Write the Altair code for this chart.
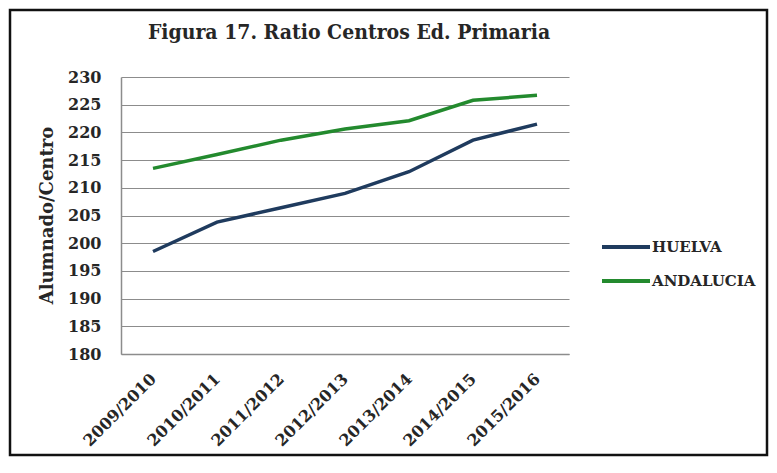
import altair as alt
import pandas as pd

categories = ["2009/2010", "2010/2011", "2011/2012", "2012/2013", "2013/2014", "2014/2015", "2015/2016"]
huelva = [198.5, 203.8, 206.4, 209.0, 212.9, 218.6, 221.5]
andalucia = [213.5, 216.0, 218.6, 220.6, 222.1, 225.8, 226.7]
series_names = ["HUELVA", "ANDALUCIA"]
series_colors = ["#1f3b5e", "#238a2e"]
y_ticks = [180, 185, 190, 195, 200, 205, 210, 215, 220, 225, 230]
title_text = "Figura 17. Ratio Centros Ed. Primaria"

rows = []
for name, vals in zip(series_names, [huelva, andalucia]):
    for c, v in zip(categories, vals):
        rows.append({"curso": c, "valor": v, "serie": name})
df = pd.DataFrame(rows)

FONT = "'DejaVu Serif', serif"
FONT_C = "'DejaVu Serif Condensed', 'DejaVu Serif', serif"
TXT = "#262626"

lines = alt.Chart(df).mark_line(strokeWidth=3.5).encode(
    x=alt.X("curso:N", sort=categories,
            scale=alt.Scale(paddingInner=0, paddingOuter=0),
            axis=alt.Axis(title=None, labelAngle=315, labelAlign="right",
                          labelBaseline="middle", labelPadding=22, ticks=False,
                          labelFontSize=16, grid=False)),
    y=alt.Y("valor:Q", scale=alt.Scale(domain=[180, 230], nice=False, zero=False),
            axis=alt.Axis(values=y_ticks, title="Alumnado/Centro", ticks=False,
                          labelFontSize=16, labelPadding=20,
                          titleFontSize=18, titleAngle=270, titleX=-74, titleY=138,
                          titleAlign="center", titleBaseline="middle")),
    color=alt.Color("serie:N", scale=alt.Scale(domain=series_names, range=series_colors),
                    legend=alt.Legend(title=None, orient="none", legendX=479, legendY=144,
                                      symbolType="stroke", symbolSize=2304,
                                      symbolStrokeWidth=4, rowPadding=-8, labelOffset=0,
                                      labelFontSize=15)),
)

title = alt.Chart(alt.Data(values=[{"t": title_text}])).mark_text(
    font=FONT_C, fontSize=21, fontWeight="bold", color=TXT, align="center", baseline="alphabetic"
).encode(text="t:N", x=alt.value(228), y=alt.value(-38))

frame = alt.Chart(alt.Data(values=[{"a": 1}])).mark_rect(
    filled=False, stroke="#111111", strokeWidth=2.5
).encode(
    x=alt.value(-111), x2=alt.value(646),
    y=alt.value(-67), y2=alt.value(378),
)

chart = alt.layer(lines, title, frame).properties(
    width=448, height=277,
    autosize=alt.AutoSizeParams(type="none"),
    padding={"left": 113, "top": 69, "right": 200, "bottom": 103},
).configure_view(stroke=None).configure_axis(
    labelFont=FONT, titleFont=FONT, labelFontWeight="bold", titleFontWeight="bold",
    labelColor=TXT, titleColor=TXT, domainColor="#8c8c8c", domainWidth=1.5,
    gridColor="#8c8c8c", gridWidth=1.2,
).configure_legend(
    labelFont=FONT, labelFontWeight="bold", labelColor=TXT,
)

chart.save("out.html", embed_options={"renderer": "svg", "actions": False})
